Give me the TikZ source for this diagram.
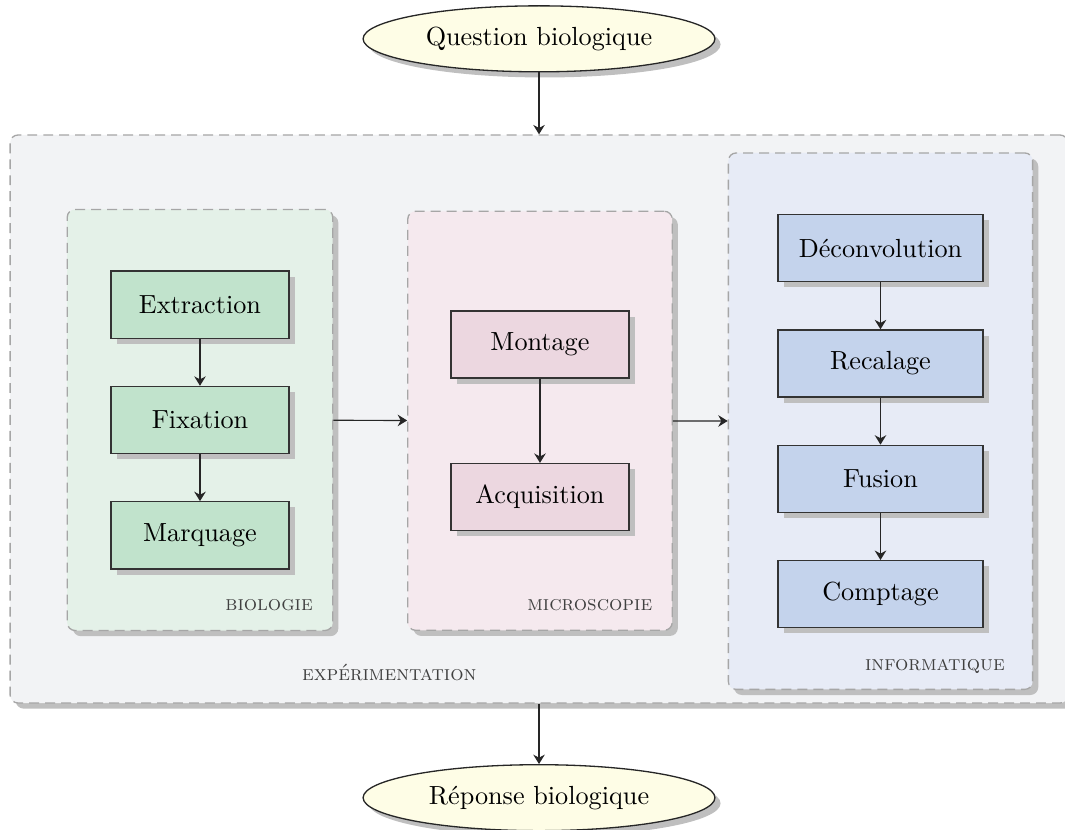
\documentclass[tikz,border=0pt]{standalone}
\usepackage{tikz}
\usetikzlibrary{shapes.geometric,arrows.meta,positioning,fit,shadows,backgrounds}
\usepackage{xcolor}
\definecolor{expfill}{HTML}{F2F3F5}
\definecolor{biofill}{HTML}{E4F1E8}
\definecolor{biobox}{HTML}{C1E3CC}
\definecolor{microfill}{HTML}{F5E9EE}
\definecolor{microbox}{HTML}{ECD7E0}
\definecolor{infofill}{HTML}{E7EBF6}
\definecolor{infobox}{HTML}{C4D3EC}
\definecolor{endfill}{HTML}{FEFDE6}

\begin{document}
\begin{tikzpicture}[
    node distance=0.63cm,
    procbox/.style={rectangle, draw=black!80, line width=0.5pt, minimum width=2.39cm, minimum height=0.9cm, inner sep=0pt, drop shadow={fill=black!25, opacity=1}},
    groupbox/.style={rectangle, draw=black!35, dash pattern=on 3.8pt off 2.3pt, line width=0.5pt, rounded corners=3pt, drop shadow={fill=black!25, opacity=1}},
    endnode/.style={ellipse, draw=black!85, line width=0.5pt, fill=endfill, minimum width=4.72cm, minimum height=0.885cm, inner sep=0pt, drop shadow={fill=black!25, opacity=1}},
    grouplabel/.style={font=\footnotesize\scshape, text=black!75, inner sep=0pt, anchor=east},
    flow/.style={-{Stealth[length=3.6pt, width=4.4pt]}, line width=0.45pt, black!85}
]
\useasboundingbox (-7.244,-5.5) rectangle (7.043,5.634);

\node[procbox, fill=biobox] (fixation) at (-4.561,0) {Fixation};
\node[procbox, fill=biobox, above=of fixation] (extraction) {Extraction};
\node[procbox, fill=biobox, below=of fixation] (marquage) {Marquage};

\node[procbox, fill=microbox] (montage) at (0,1.013) {Montage};
\node[procbox, fill=microbox, below=1.13cm of montage] (acquisition) {Acquisition};

\node[procbox, fill=infobox, minimum width=2.75cm] (recalage) at (4.568,0.758) {Recalage};
\node[procbox, fill=infobox, minimum width=2.75cm, above=of recalage] (deconvolution) {Déconvolution};
\node[procbox, fill=infobox, minimum width=2.75cm, below=of recalage] (fusion) {Fusion};
\node[procbox, fill=infobox, minimum width=2.75cm, below=of fusion] (comptage) {Comptage};

\begin{scope}[on background layer]
\node[groupbox, fill=expfill, minimum width=14.19cm, minimum height=7.62cm] (experimentation) at (-0.013,0.013) {};
\node[groupbox, fill=biofill, inner xsep=0.577cm, inner ysep=0.818cm, fit=(extraction)(marquage)] (biologie) {};
\node[groupbox, fill=microfill, inner xsep=0.57cm, inner ysep=1.328cm, fit=(montage)(acquisition)] (microscopie) {};
\node[groupbox, fill=infofill, inner xsep=0.657cm, inner ysep=0.818cm, fit=(deconvolution)(comptage)] (informatique) {};
\end{scope}

\node[grouplabel] at ([xshift=-0.27cm, yshift=0.35cm]biologie.south east) {biologie};
\node[grouplabel] at ([xshift=-0.27cm, yshift=0.35cm]microscopie.south east) {microscopie};
\node[grouplabel] at ([xshift=-0.376cm, yshift=0.32cm]informatique.south east) {informatique};
\node[grouplabel] at ([xshift=-0.832cm, yshift=0.42cm]experimentation.south) {expérimentation};

\node[endnode, above=0.83cm of experimentation] (question) {Question biologique};
\node[endnode, below=0.81cm of experimentation] (reponse) {Réponse biologique};

\draw[flow] (question) -- (experimentation);
\draw[flow] (experimentation) -- (reponse);
\draw[flow] (extraction) -- (fixation);
\draw[flow] (fixation) -- (marquage);
\draw[flow] (montage) -- (acquisition);
\draw[flow] (deconvolution) -- (recalage);
\draw[flow] (recalage) -- (fusion);
\draw[flow] (fusion) -- (comptage);
\draw[flow] (biologie) -- (microscopie);
\draw[flow] (microscopie) -- (informatique);
\end{tikzpicture}
\end{document}
